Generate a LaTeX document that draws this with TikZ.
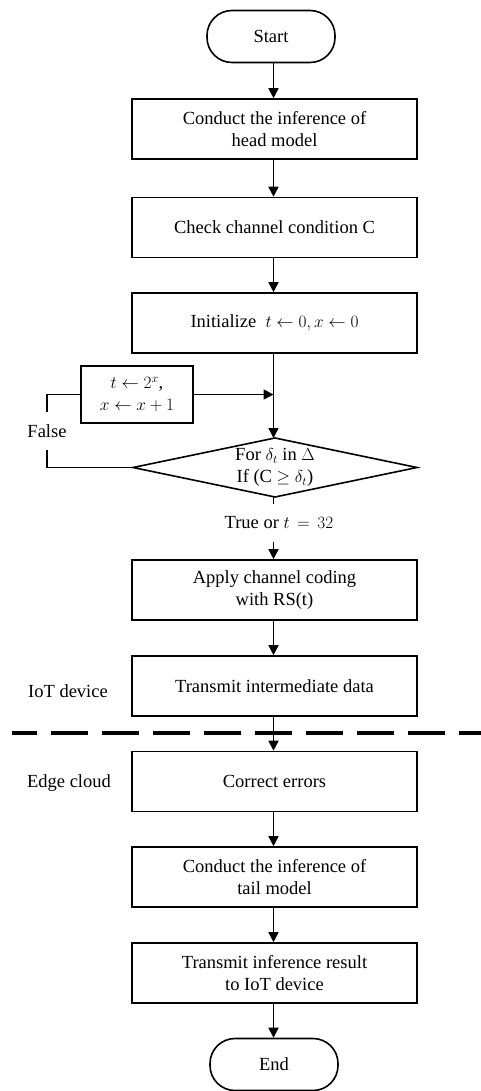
\documentclass[tikz,border=0pt]{standalone}
\usepackage{fontspec}
\setmainfont{Liberation Serif}
\usetikzlibrary{arrows.meta}
\begin{document}
\begin{tikzpicture}[x=1pt,y=1pt,
  font=\fontsize{18.5}{22.5}\selectfont,
  proc/.style={draw,line width=1.6pt,minimum width=285pt,minimum height=60pt,
    align=center,inner sep=2pt},
  term/.style={draw,line width=1.6pt,rounded corners=25pt,minimum width=128pt,
    minimum height=52pt,inner sep=2pt},
  flow/.style={line width=1.6pt,-{Triangle[length=10pt,width=10pt]}},
  link/.style={line width=1.6pt},
  side/.style={inner sep=0pt,anchor=center}]
\useasboundingbox (0,0) rectangle (481,-1091);

% main column
\node[term] (start) at (271,-36.5) {Start};
\node[proc] (head) at (274.5,-129) {Conduct the inference of\\head model};
\node[proc] (check) at (274.5,-227.5) {Check channel condition C};
\node[proc] (init) at (274.5,-323) {Initialize\ \ $t\leftarrow 0, x\leftarrow 0$};

% loop update box and threshold test
\node[draw,line width=1.6pt,minimum width=112pt,minimum height=57pt,align=center,inner sep=1pt]
  (upd) at (137,-394.5) {$t\leftarrow 2^{x}$,\\$x\leftarrow x+1$};
\node[draw,line width=1.6pt,minimum width=284pt,minimum height=59pt,inner sep=0pt,
  shape=rectangle,draw=none] (dbox) at (275,-467.5) {};
\coordinate (dN) at (275,-438);
\coordinate (dS) at (275,-497);
\coordinate (dW) at (133,-467.5);
\coordinate (dE) at (417,-467.5);
\draw[link,line join=miter] (dN) -- (dE) -- (dS) -- (dW) -- cycle;
\node[align=center] (test) at (275,-467.5) {For $\delta_t$ in $\Delta$\\If (C $\geq \delta_t$)};

\node[side,minimum height=38pt] (true) at (279,-523) {True or $t\,=\,32$};
\node[side,minimum height=38pt] (false) at (47,-431) {False};

\node[proc] (apply) at (274.5,-590) {Apply channel coding\\with RS(t)};
\node[proc] (send) at (274.5,-686) {Transmit intermediate data};
\node[proc] (fix) at (274.5,-781.5) {Correct errors};
\node[proc] (tail) at (274.5,-877) {Conduct the inference of\\tail model};
\node[proc] (result) at (274.5,-973) {Transmit inference result\\to IoT device};
\node[term] (end) at (274,-1064.5) {End};

% side labels
\node[side] (iot) at (68,-691) {IoT device};
\node[side] (edge) at (69,-783) {Edge cloud};

% device / cloud boundary
\coordinate (cutL) at (12,-733);
\coordinate (cutR) at (481,-733);
\draw[line width=4pt,dash pattern=on 37pt off 14pt,dash phase=12pt] (cutL) -- (cutR);

% connectors
\coordinate (mainx) at (273.5,0);
\coordinate (join) at (mainx |- upd.east);
\draw[flow] (mainx |- start.south) -- (mainx |- head.north);
\draw[flow] (mainx |- head.south) -- (mainx |- check.north);
\draw[flow] (mainx |- check.south) -- (mainx |- init.north);
\draw[flow] (mainx |- init.south) -- (mainx |- dN);
\draw[flow] (upd.east) -- (join);
\draw[link] (dW) -| (false.south);
\draw[link] (false.north) |- (upd.west);
\draw[link] (mainx |- dS) -- (mainx |- true.north);
\draw[flow] (mainx |- true.south) -- (mainx |- apply.north);
\draw[flow] (mainx |- apply.south) -- (mainx |- send.north);
\draw[flow] (mainx |- send.south) -- (mainx |- fix.north);
\draw[flow] (mainx |- fix.south) -- (mainx |- tail.north);
\draw[flow] (mainx |- tail.south) -- (mainx |- result.north);
\draw[flow] (mainx |- result.south) -- (mainx |- end.north);
\end{tikzpicture}
\end{document}
